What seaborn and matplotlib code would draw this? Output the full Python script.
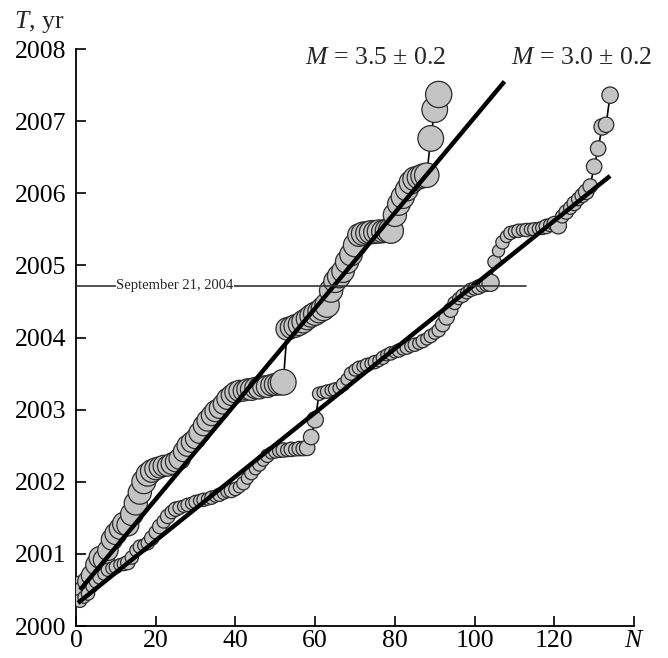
import numpy as np
import pandas as pd
import matplotlib
matplotlib.use("Agg")
import matplotlib.pyplot as plt
import seaborn as sns

# cumulative event count vs time, two sequences
t_a = [2000.55, 2000.50, 2000.62, 2000.70, 2000.85, 2000.95, 2000.92, 2001.05, 2001.20, 2001.28,
       2001.35, 2001.42, 2001.40, 2001.55, 2001.70, 2001.85, 2002.00, 2002.10, 2002.15, 2002.18,
       2002.20, 2002.22, 2002.22, 2002.25, 2002.28, 2002.32, 2002.42, 2002.50, 2002.55, 2002.60,
       2002.68, 2002.78, 2002.85, 2002.92, 2002.98, 2003.02, 2003.08, 2003.15, 2003.20, 2003.24,
       2003.26, 2003.26, 2003.28, 2003.28, 2003.30, 2003.30, 2003.32, 2003.32, 2003.34, 2003.35,
       2003.36, 2003.38, 2004.12, 2004.14, 2004.16, 2004.18, 2004.22, 2004.26, 2004.30, 2004.33,
       2004.36, 2004.40, 2004.45, 2004.65, 2004.78, 2004.85, 2004.92, 2005.05, 2005.15, 2005.28,
       2005.42, 2005.44, 2005.45, 2005.46, 2005.46, 2005.47, 2005.47, 2005.48, 2005.48, 2005.70,
       2005.85, 2005.95, 2006.05, 2006.15, 2006.20, 2006.22, 2006.24, 2006.25, 2006.76, 2007.16,
       2007.37]
mag_a = [5.2, 5.1, 5.2, 5.3, 5.2, 5.4, 5.3, 5.2, 5.3, 5.4,
         5.3, 5.5, 5.4, 5.5, 5.6, 5.6, 5.7, 5.6, 5.5, 5.4,
         5.3, 5.3, 5.2, 5.3, 5.2, 5.3, 5.2, 5.3, 5.2, 5.2,
         5.3, 5.2, 5.3, 5.2, 5.3, 5.2, 5.2, 5.3, 5.2, 5.3,
         5.3, 5.2, 5.3, 5.4, 5.3, 5.4, 5.3, 5.4, 5.3, 5.4,
         5.5, 6.0, 5.5, 5.4, 5.5, 5.4, 5.5, 5.4, 5.5, 5.6,
         5.5, 5.7, 5.8, 5.6, 5.5, 5.6, 5.5, 5.6, 5.5, 5.6,
         5.5, 5.6, 5.5, 5.6, 5.5, 5.6, 5.5, 5.6, 5.9, 5.6,
         5.5, 5.6, 5.5, 5.6, 5.7, 5.6, 5.7, 5.8, 6.0, 6.0,
         6.1]

t_b = [2000.35, 2000.40, 2000.45, 2000.55, 2000.62, 2000.68, 2000.72, 2000.78, 2000.80, 2000.82,
       2000.85, 2000.86, 2000.88, 2000.95, 2001.05, 2001.10, 2001.12, 2001.15, 2001.22, 2001.30,
       2001.38, 2001.45, 2001.52, 2001.58, 2001.62, 2001.64, 2001.66, 2001.68, 2001.70, 2001.72,
       2001.74, 2001.75, 2001.76, 2001.78, 2001.80, 2001.82, 2001.84, 2001.87, 2001.88, 2001.90,
       2001.93, 2001.98, 2002.05, 2002.12, 2002.18, 2002.24, 2002.30, 2002.36, 2002.40, 2002.42,
       2002.43, 2002.44, 2002.44, 2002.45, 2002.45, 2002.46, 2002.46, 2002.47, 2002.62, 2002.86,
       2003.22, 2003.24, 2003.25, 2003.27, 2003.28, 2003.30, 2003.35, 2003.42, 2003.50, 2003.55,
       2003.58, 2003.60, 2003.62, 2003.64, 2003.66, 2003.68, 2003.72, 2003.76, 2003.78, 2003.80,
       2003.82, 2003.84, 2003.86, 2003.88, 2003.90, 2003.92, 2003.95, 2003.98, 2004.02, 2004.06,
       2004.10, 2004.18, 2004.28, 2004.38, 2004.48, 2004.54, 2004.58, 2004.62, 2004.66, 2004.68,
       2004.70, 2004.72, 2004.74, 2004.76, 2005.05, 2005.20, 2005.32, 2005.40, 2005.45, 2005.47,
       2005.48, 2005.49, 2005.49, 2005.50, 2005.50, 2005.51, 2005.52, 2005.54, 2005.56, 2005.58,
       2005.55, 2005.68, 2005.74, 2005.80, 2005.86, 2005.92, 2005.97, 2006.02, 2006.10, 2006.37,
       2006.62, 2006.92, 2006.95, 2007.36]
mag_b = [4.4, 4.3, 4.4, 4.3, 4.4, 4.5, 4.3, 4.4, 4.3, 4.4,
         4.3, 4.4, 4.5, 4.4, 4.3, 4.4, 4.3, 4.4, 4.5, 4.4,
         4.5, 4.4, 4.5, 4.4, 4.5, 4.4, 4.3, 4.4, 4.3, 4.4,
         4.3, 4.4, 4.3, 4.4, 4.3, 4.4, 4.3, 4.4, 4.5, 4.4,
         4.3, 4.4, 4.3, 4.4, 4.3, 4.4, 4.3, 4.4, 4.3, 4.4,
         4.4, 4.5, 4.4, 4.5, 4.4, 4.5, 4.5, 4.6, 4.6, 4.7,
         4.4, 4.3, 4.4, 4.3, 4.4, 4.3, 4.4, 4.3, 4.4, 4.3,
         4.4, 4.3, 4.4, 4.3, 4.4, 4.3, 4.4, 4.3, 4.4, 4.3,
         4.4, 4.3, 4.4, 4.3, 4.4, 4.3, 4.4, 4.3, 4.4, 4.3,
         4.4, 4.5, 4.6, 4.5, 4.4, 4.3, 4.4, 4.3, 4.4, 4.4,
         4.5, 4.4, 4.5, 4.8, 4.4, 4.3, 4.4, 4.3, 4.4, 4.3,
         4.4, 4.3, 4.4, 4.3, 4.4, 4.3, 4.4, 4.5, 4.4, 4.5,
         4.7, 4.4, 4.5, 4.4, 4.5, 4.4, 4.5, 4.6, 4.5, 4.6,
         4.6, 4.7, 4.6, 4.7]

# fitted lines (end points)
fit_a_n = [1.0, 107.5]
fit_a_t = [2000.50, 2007.55]
fit_b_n = [0.5, 134.0]
fit_b_t = [2000.32, 2006.24]

sept_2004 = 2004.72
sept_end_n = 112.8

label_a = r"$M$ = 3.5 ± 0.2"
label_b = r"$M$ = 3.0 ± 0.2"

df = pd.concat([
    pd.DataFrame({"N": np.arange(1, len(t_a) + 1), "T": t_a, "mag": mag_a, "seq": "a"}),
    pd.DataFrame({"N": np.arange(1, len(t_b) + 1), "T": t_b, "mag": mag_b, "seq": "b"}),
], ignore_index=True)

sns.set_style("ticks")
plt.rcParams["font.family"] = ["Liberation Serif", "DejaVu Serif"]
plt.rcParams["mathtext.fontset"] = "custom"
plt.rcParams["mathtext.rm"] = "Liberation Serif"
plt.rcParams["mathtext.it"] = "Liberation Serif:italic"

fig = plt.figure(figsize=(6.68, 6.58), dpi=100)
ax = fig.add_axes([0.1138, 0.0486, 0.8353, 0.8769])

# thin connecting lines
sns.lineplot(data=df, x="N", y="T", hue="seq", palette=["black", "black"],
             estimator=None, sort=False, linewidth=1.2, legend=False, ax=ax, zorder=2)
# circles sized by magnitude
sns.scatterplot(data=df, x="N", y="T", size="mag", sizes=(30, 420), size_norm=(4.0, 6.5),
                color="#c4c4c4", edgecolor="#2a2a2a", linewidth=0.9, alpha=1,
                legend=False, ax=ax, zorder=3)

# fitted lines
ax.plot(fit_a_n, fit_a_t, color="black", lw=3.2, solid_capstyle="butt", zorder=5)
ax.plot(fit_b_n, fit_b_t, color="black", lw=3.2, solid_capstyle="butt", zorder=5)

# date line
ax.plot([0, sept_end_n], [sept_2004, sept_2004], color="#333333", lw=1.2, zorder=6)
ax.text(24.8, sept_2004, "September 21, 2004", fontsize=10.5, ha="center", va="center",
        bbox=dict(facecolor="white", edgecolor="none", pad=0.5), zorder=7)

ax.text(57.5, 2007.88, label_a, fontsize=18.5, ha="left", va="center", clip_on=False)
ax.text(109.1, 2007.88, label_b, fontsize=18.5, ha="left", va="center", clip_on=False)

ax.set_xlim(0, 140)
ax.set_ylim(2000, 2008)
ax.set_xticks(np.arange(0, 141, 20))
ax.set_xticklabels(["0", "20", "40", "60", "80", "100", "120", r"$N$"])
ax.set_yticks(np.arange(2000, 2009, 1))
ax.set_yticklabels([str(y) for y in range(2000, 2009)])
ax.tick_params(axis="both", direction="in", length=7, width=1.2, labelsize=18.5, colors="black")
ax.tick_params(axis="y", pad=7)
ax.tick_params(axis="x", pad=3)
ax.set_xlabel("")
ax.set_ylabel("")
for s in ["top", "right"]:
    ax.spines[s].set_visible(False)
for s in ["left", "bottom"]:
    ax.spines[s].set_linewidth(1.3)
    ax.spines[s].set_color("black")

fig.text(14 / 668, 1 - 22 / 658, r"$T$, yr", fontsize=18.5, ha="left", va="center")

fig.savefig("out.png", dpi=100)
